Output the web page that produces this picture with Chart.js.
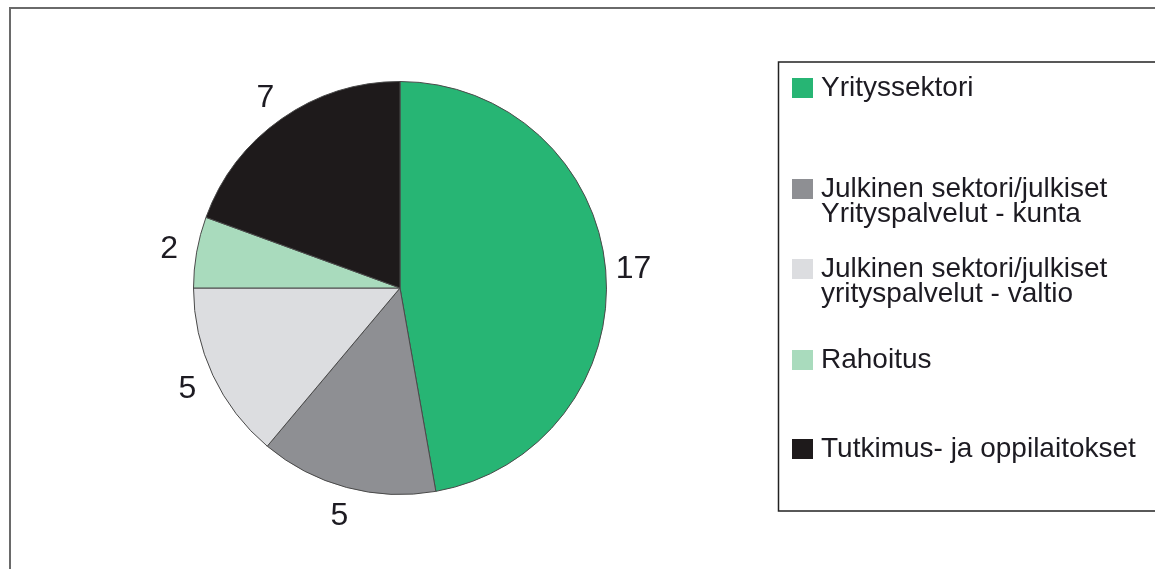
<!DOCTYPE html>
<html>
<head>
<meta charset="utf-8">
<script src="https://cdn.jsdelivr.net/npm/chart.js@4"></script>
<style>
  html, body { margin: 0; padding: 0; background: #fff; }
  #wrap { width: 1155px; height: 569px; position: relative; }
</style>
</head>
<body>
<div id="wrap"><canvas id="pie"></canvas></div>
<script>
const labels = [
  'Yrityssektori',
  ['Julkinen sektori/julkiset', 'Yrityspalvelut - kunta'],
  ['Julkinen sektori/julkiset', 'yrityspalvelut - valtio'],
  'Rahoitus',
  'Tutkimus- ja oppilaitokset'
];
const values = [17, 5, 5, 2, 7];
const colors = ['#27b574', '#8e8f93', '#dcdde0', '#a9dbbd', '#1e1a1b'];
// legend row centres
const legendRowY = [88, 189, 269, 360, 449];

const legendFont = '28px "Liberation Sans", Arial, sans-serif';

// frame + legend box + value labels
const framePlugin = {
  id: 'frame',
  beforeDraw(chart) {
    const c = chart.ctx;
    c.save();
    c.fillStyle = '#fff';
    c.fillRect(0, 0, chart.width, chart.height);
    c.strokeStyle = '#6a6a6a';
    c.lineWidth = 2;
    c.strokeRect(10, 8, 1200, 700);
    c.restore();
  },
  afterDraw(chart) {
    const c = chart.ctx;
    c.save();
    // legend box
    c.strokeStyle = '#222';
    c.lineWidth = 1.5;
    c.strokeRect(778.5, 62, 500, 449);
    c.font = legendFont;
    c.textBaseline = 'middle';
    labels.forEach((lab, i) => {
      const y = legendRowY[i];
      c.fillStyle = colors[i];
      c.fillRect(792, y - 10, 21, 20);
      c.fillStyle = '#1d1b22';
      const lines = Array.isArray(lab) ? lab : [lab];
      lines.forEach((ln, j) => c.fillText(ln, 821, y + j * 25));
    });
    // value labels outside slices
    const meta = chart.getDatasetMeta(0);
    c.font = '32px "Liberation Sans", Arial, sans-serif';
    c.fillStyle = '#1d1b22';
    c.textAlign = 'center';
    meta.data.forEach((arc, i) => {
      const p = arc.getProps(['x', 'y', 'startAngle', 'endAngle', 'outerRadius'], true);
      const mid = (p.startAngle + p.endAngle) / 2;
      const r = p.outerRadius + 28;
      c.fillText(String(values[i]), p.x + Math.cos(mid) * r, p.y + Math.sin(mid) * r + 2);
    });
    c.restore();
  }
};

new Chart(document.getElementById('pie').getContext('2d'), {
  type: 'pie',
  data: {
    labels: labels,
    datasets: [{
      data: values,
      backgroundColor: colors,
      borderColor: '#4a4a4a',
      borderWidth: 1
    }]
  },
  options: {
    responsive: true,
    maintainAspectRatio: false,
    animation: false,
    layout: { padding: { left: 193, right: 548, top: 81, bottom: 74 } },
    plugins: {
      legend: { display: false },
      tooltip: { enabled: false }
    }
  },
  plugins: [framePlugin]
});
</script>
</body>
</html>
